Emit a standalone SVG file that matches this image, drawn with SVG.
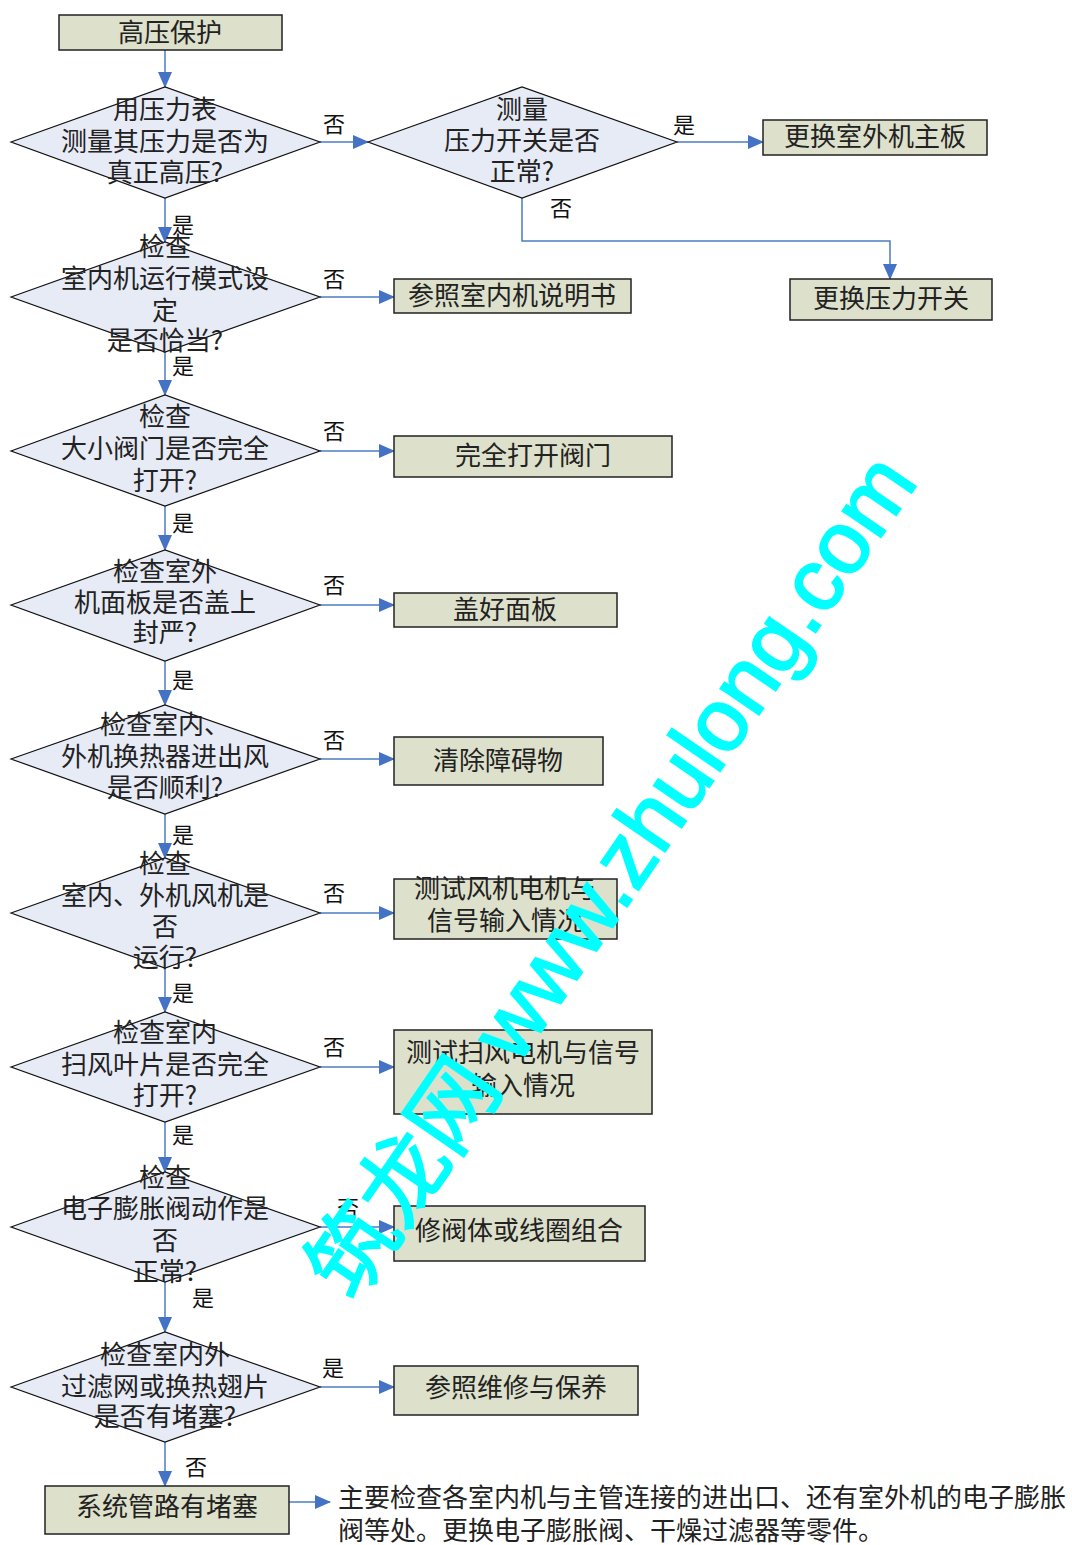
<svg xmlns="http://www.w3.org/2000/svg" width="1072" height="1545" viewBox="0 0 1072 1545">
<defs>
<style>
.box{fill:#dde0ca;stroke:#222;stroke-width:1.5}
.dia{fill:#e7ebf6;stroke:#111;stroke-width:1.2}
.t{font-family:"Noto Sans CJK SC","Noto Sans CJK JP",sans-serif;font-size:26px;fill:#222;text-anchor:middle}
.lb{font-family:"Noto Sans CJK SC","Noto Sans CJK JP",sans-serif;font-size:22px;fill:#111;text-anchor:middle}
.ln{fill:none;stroke:#4a7cc4;stroke-width:1.5;marker-end:url(#ah)}
.wm{font-family:"Liberation Sans","Noto Sans CJK SC",sans-serif;font-size:88px;fill:#00ffff;stroke:#00ffff;stroke-width:2}
</style>
<marker id="ah" markerUnits="userSpaceOnUse" markerWidth="16" markerHeight="14" refX="15" refY="7" orient="auto">
<path d="M0,0 L16,7 L0,14 Z" fill="#4472c4"/>
</marker>
</defs>
<rect width="1072" height="1545" fill="#fff"/>

<g id="connectors">
<path class="ln" d="M165,50 V87"/>
<path class="ln" d="M320,142 H368"/>
<path class="ln" d="M677,142 H763"/>
<path class="ln" d="M522,198 V241 H890 V279"/>
<path class="ln" d="M165,198 V242"/>
<path class="ln" d="M320,297 H394"/>
<path class="ln" d="M165,352 V395"/>
<path class="ln" d="M320,451 H394"/>
<path class="ln" d="M165,506 V550"/>
<path class="ln" d="M320,605 H394"/>
<path class="ln" d="M165,661 V705"/>
<path class="ln" d="M320,759 H394"/>
<path class="ln" d="M165,814 V858"/>
<path class="ln" d="M320,913 H394"/>
<path class="ln" d="M165,968 V1012"/>
<path class="ln" d="M320,1067 H394"/>
<path class="ln" d="M165,1122 V1172"/>
<path class="ln" d="M320,1227 H394"/>
<path class="ln" d="M165,1282 V1332"/>
<path class="ln" d="M320,1387 H394"/>
<path class="ln" d="M165,1442 V1486"/>
<path class="ln" d="M289,1502 H330"/>
<g class="lb">
<text x="334" y="132">否</text>
<text x="684" y="133">是</text>
<text x="561" y="216">否</text>
<text x="183" y="233">是</text>
<text x="334" y="287">否</text>
<text x="183" y="374">是</text>
<text x="334" y="439">否</text>
<text x="183" y="531">是</text>
<text x="334" y="593">否</text>
<text x="183" y="688">是</text>
<text x="334" y="748">否</text>
<text x="183" y="843">是</text>
<text x="334" y="901">否</text>
<text x="183" y="1001">是</text>
<text x="334" y="1055">否</text>
<text x="183" y="1143">是</text>
<text x="348" y="1216">否</text>
<text x="203" y="1306">是</text>
<text x="333" y="1376">是</text>
<text x="196" y="1475">否</text>
</g>
</g>

<g id="n0"><rect class="box" x="59" y="15" width="223" height="35"/><text class="t" x="170" y="42">高压保护</text></g>

<g id="d1"><path class="dia" d="M11,142 L165,87 L320,142 L165,198 Z"/>
<text class="t" x="165" y="119">用压力表</text><text class="t" x="165" y="151">测量其压力是否为</text><text class="t" x="165" y="182">真正高压?</text></g>

<g id="dr"><path class="dia" d="M368,142 L522,87 L677,142 L522,198 Z"/>
<text class="t" x="522" y="119">测量</text><text class="t" x="522" y="150">压力开关是否</text><text class="t" x="522" y="181">正常?</text></g>

<g id="br1"><rect class="box" x="763" y="120" width="224" height="35"/><text class="t" x="875" y="146">更换室外机主板</text></g>
<g id="br2"><rect class="box" x="790" y="279" width="202" height="41"/><text class="t" x="891" y="308">更换压力开关</text></g>

<g id="d2"><path class="dia" d="M11,297 L165,242 L320,297 L165,352 Z"/>
<text class="t" x="165" y="256">检查</text><text class="t" x="165" y="288">室内机运行模式设</text><text class="t" x="165" y="320">定</text><text class="t" x="165" y="350">是否恰当?</text></g>
<g id="b2"><rect class="box" x="394" y="279" width="237" height="34"/><text class="t" x="512" y="305">参照室内机说明书</text></g>

<g id="d3"><path class="dia" d="M11,451 L165,395 L320,451 L165,506 Z"/>
<text class="t" x="165" y="426">检查</text><text class="t" x="165" y="458">大小阀门是否完全</text><text class="t" x="165" y="490">打开?</text></g>
<g id="b3"><rect class="box" x="394" y="436" width="278" height="41"/><text class="t" x="533" y="465">完全打开阀门</text></g>

<g id="d4"><path class="dia" d="M11,605 L165,550 L320,605 L165,661 Z"/>
<text class="t" x="165" y="581">检查室外</text><text class="t" x="165" y="612">机面板是否盖上</text><text class="t" x="165" y="642">封严?</text></g>
<g id="b4"><rect class="box" x="394" y="593" width="223" height="34"/><text class="t" x="505" y="619">盖好面板</text></g>

<g id="d5"><path class="dia" d="M11,759 L165,705 L320,759 L165,814 Z"/>
<text class="t" x="165" y="734">检查室内、</text><text class="t" x="165" y="766">外机换热器进出风</text><text class="t" x="165" y="797">是否顺利?</text></g>
<g id="b5"><rect class="box" x="394" y="737" width="209" height="48"/><text class="t" x="498" y="770">清除障碍物</text></g>

<g id="d6"><path class="dia" d="M11,913 L165,858 L320,913 L165,968 Z"/>
<text class="t" x="165" y="873">检查</text><text class="t" x="165" y="905">室内、外机风机是</text><text class="t" x="165" y="936">否</text><text class="t" x="165" y="967">运行?</text></g>
<g id="b6"><rect class="box" x="394" y="879" width="223" height="60"/><text class="t" x="505" y="898">测试风机电机与</text><text class="t" x="505" y="930">信号输入情况</text></g>

<g id="d7"><path class="dia" d="M11,1067 L165,1012 L320,1067 L165,1122 Z"/>
<text class="t" x="165" y="1042">检查室内</text><text class="t" x="165" y="1074">扫风叶片是否完全</text><text class="t" x="165" y="1105">打开?</text></g>
<g id="b7"><rect class="box" x="394" y="1030" width="258" height="84"/><text class="t" x="523" y="1062">测试扫风电机与信号</text><text class="t" x="523" y="1095">输入情况</text></g>

<g id="d8"><path class="dia" d="M11,1227 L165,1172 L320,1227 L165,1282 Z"/>
<text class="t" x="165" y="1187">检查</text><text class="t" x="165" y="1218">电子膨胀阀动作是</text><text class="t" x="165" y="1250">否</text><text class="t" x="165" y="1281">正常?</text></g>
<g id="b8"><rect class="box" x="394" y="1206" width="251" height="55"/><text class="t" x="519" y="1240">修阀体或线圈组合</text></g>

<g id="d9"><path class="dia" d="M11,1387 L165,1332 L320,1387 L165,1442 Z"/>
<text class="t" x="165" y="1364">检查室内外</text><text class="t" x="165" y="1396">过滤网或换热翅片</text><text class="t" x="165" y="1426">是否有堵塞?</text></g>
<g id="b9"><rect class="box" x="394" y="1366" width="244" height="49"/><text class="t" x="516" y="1397">参照维修与保养</text></g>

<g id="b10"><rect class="box" x="45" y="1486" width="244" height="48"/><text class="t" x="167" y="1516">系统管路有堵塞</text></g>

<g id="note">
<text class="t" style="text-anchor:start" x="338" y="1507">主要检查各室内机与主管连接的进出口、还有室外机的电子膨胀</text>
<text class="t" style="text-anchor:start" x="338" y="1540">阀等处。更换电子膨胀阀、干燥过滤器等零件。</text>
</g>

<text class="wm" x="354" y="1304" transform="rotate(-55.5 354 1304)">筑龙网 www.zhulong.com</text>
</svg>
